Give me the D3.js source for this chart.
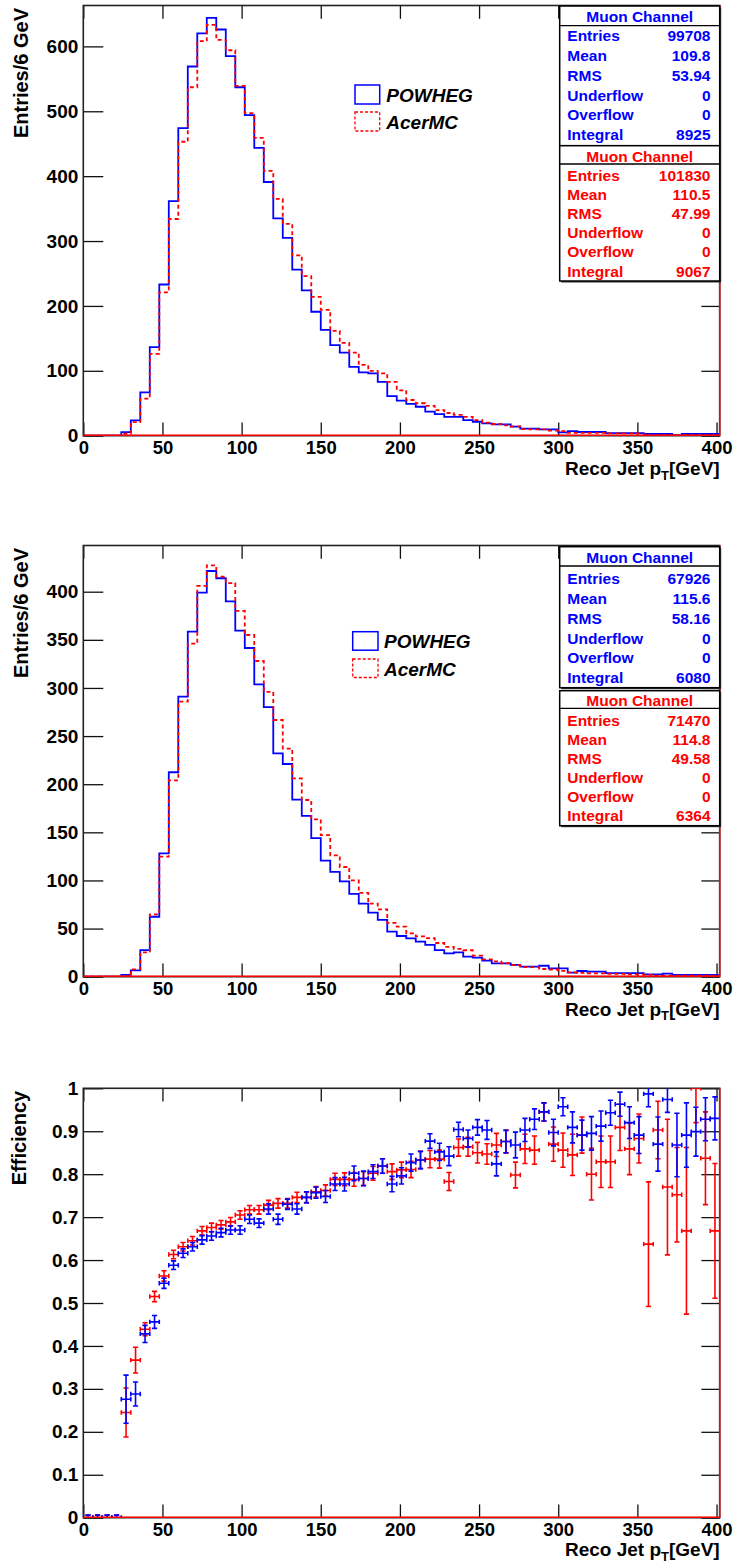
<!DOCTYPE html>
<html><head><meta charset="utf-8">
<script src="https://cdn.jsdelivr.net/npm/d3@7"></script>
<style>
body{margin:0;background:#fff}
svg{display:block}
text{font-family:"Liberation Sans",Arial,Helvetica,sans-serif;font-weight:bold}
</style></head>
<body><svg id="c" width="736" height="1564"></svg>
<script>
// ---------------- DATA ----------------
const binWidth = 6;
const binLow = d3.range(0, 402, binWidth);          // 67 bins, 0..402 GeV
const xTickLabels = [0, 50, 100, 150, 200, 250, 300, 350, 400];

// Panel 1 histograms (Entries / 6 GeV)
const h1Powheg = [0,0,0,0,5.6,23.6,66.7,136.4,233,361.5,474,569,620,644,626,585,537,494,443.5,391,335,305,256,224,191,163,139.5,128,106,97.5,96,83,61,54,49,44.6,37,33.4,29,29,24,21.5,19,17.5,17.5,14,11,11,9.8,9.8,5.2,7.2,5.7,5.7,5.7,4.1,4.1,4.1,4.1,2.6,2.6,2.6,1,2.6,2.6,2.6,2.6];
const h1Acer   = [0,0,0,0,3,21,57,126,221,334,453,537,608,633,610,594,539,497,459,408,365,326.6,278,246,214,194,161.5,143,128,109,100,96,83,70,55,50,46,39.5,35,32,29,24,20,18,16,14.5,10,9.8,9.8,8,7,4.5,4.5,4.5,4.5,3.5,3.5,3.5,3.5,1,1,1,1,1,1,1,1];

// Panel 2 histograms
const h2Powheg = [0,0,0,0,1.8,6.6,27.7,62.3,128.2,212.4,291,358.5,399,421.5,414,390,359.5,341.5,303.8,280,232,221,184,167,144,120.5,109,99,86,76,66.5,59,46.8,42.3,39.9,36.4,33,27.7,24.3,25.3,20.8,19.8,16.6,13.9,13.9,12.2,10.4,10.4,11.4,8.7,8.7,4.2,5.9,5.2,5.2,3.8,3.8,3.8,3.8,2.5,2.5,3.1,1.8,1.8,1.8,1.8,1.8];
const h2Acer   = [0,0,0,0,0.5,7.7,25.3,64.8,124.7,204,285.7,346,406,427.4,415.6,409,380,355,328,296,266.7,237,206,183.6,163.5,147,126,114,100,87,76,70,56,52,45,42,40,35,31,29,27.5,22,18,16,14,12,10,10,8,7.5,6,4.5,4,3.5,3.5,3,3,2.5,2.5,2,1,1,1,1,1,1,1];

// Panel 3 efficiencies (per 6 GeV bin) and errors
const effPowheg = [0,0,0,0,0.276,0.288,0.428,0.456,0.546,0.588,0.616,0.631,0.647,0.656,0.664,0.670,0.670,0.695,0.686,0.719,0.695,0.730,0.719,0.746,0.757,0.748,0.777,0.777,0.802,0.790,0.806,0.819,0.777,0.796,0.827,0.833,0.877,0.852,0.842,0.904,0.883,0.909,0.903,0.824,0.876,0.868,0.903,0.928,0.945,0.897,0.957,0.909,0.891,0.895,0.912,0.943,0.963,0.920,0.891,0.987,0.870,0.974,0.868,0.891,0.899,0.928,0.930];
const errPowheg = [0.006,0.006,0.006,0.006,0.056,0.028,0.02,0.015,0.012,0.01,0.01,0.01,0.01,0.01,0.01,0.01,0.01,0.01,0.01,0.012,0.012,0.012,0.012,0.013,0.013,0.014,0.015,0.016,0.017,0.017,0.016,0.017,0.018,0.019,0.02,0.02,0.017,0.02,0.022,0.017,0.02,0.018,0.022,0.028,0.026,0.03,0.027,0.024,0.021,0.031,0.021,0.036,0.035,0.039,0.035,0.029,0.028,0.037,0.043,0.03,0.063,0.03,0.074,0.075,0.057,0.05,0.05];
const effAcer   = [0,0,0,0,0.245,0.367,0.439,0.515,0.563,0.613,0.631,0.645,0.668,0.676,0.682,0.689,0.705,0.717,0.717,0.728,0.732,0.732,0.746,0.746,0.759,0.762,0.788,0.788,0.788,0.790,0.802,0.819,0.806,0.810,0.811,0.833,0.835,0.835,0.783,0.862,0.864,0.850,0.847,0.868,0.876,0.798,0.859,0.856,0.945,0.870,0.856,0.845,0.891,0.800,0.829,0.829,0.909,0.859,0.883,0.637,0.903,0.770,0.752,0.668,1.0,0.837,0.668];
const errAcer   = [0.006,0.006,0.006,0.006,0.057,0.03,0.015,0.012,0.012,0.01,0.01,0.01,0.01,0.01,0.01,0.01,0.01,0.01,0.01,0.011,0.011,0.011,0.012,0.012,0.012,0.013,0.014,0.015,0.016,0.016,0.016,0.017,0.018,0.018,0.019,0.02,0.02,0.021,0.021,0.02,0.022,0.024,0.024,0.027,0.027,0.03,0.034,0.033,0.021,0.04,0.04,0.048,0.042,0.06,0.06,0.06,0.054,0.06,0.057,0.145,0.067,0.158,0.11,0.194,0.08,0.108,0.157];

// Stat boxes
const statTitle = "Muon Channel";
const statLabels = ["Entries", "Mean", "RMS", "Underflow", "Overflow", "Integral"];
const stats1Powheg = ["99708", "109.8", "53.94", "0", "0", "8925"];
const stats1Acer   = ["101830", "110.5", "47.99", "0", "0", "9067"];
const stats2Powheg = ["67926", "115.6", "58.16", "0", "0", "6080"];
const stats2Acer   = ["71470", "114.8", "49.58", "0", "0", "6364"];
const legendNames = ["POWHEG", "AcerMC"];

// ---------------- DRAWING ----------------
const BLUE = "#0000ff", RED = "#ff0000";
const svg = d3.select("#c");
const X0 = 83.3, X1 = 719.7;
const x = d3.scaleLinear().domain([0, 402]).range([X0, X1]);
let clipId = 0;

function frame(g, y, cfg) {
  const yt = cfg.yt, yb = cfg.yb;
  const cid = "clip" + (clipId++);
  svg.append("clipPath").attr("id", cid).append("rect")
    .attr("x", X0).attr("y", yt).attr("width", X1 - X0).attr("height", yb - yt);
  // bottom axis
  const bot = g.append("g").attr("transform", `translate(0,${yb})`);
  bot.call(d3.axisBottom(x).tickValues(d3.range(0, 402, 10)).tickSize(-6.7).tickFormat(""));
  bot.call(d3.axisBottom(x).tickValues(xTickLabels).tickSize(-13.3).tickPadding(5.2).tickFormat(d3.format("d")));
  bot.selectAll(".domain").remove();
  bot.selectAll("text").attr("font-size", 18.5).attr("fill", "#000");
  bot.attr("font-family", null).attr("font-size", null);
  // top axis
  const top = g.append("g").attr("transform", `translate(0,${yt})`);
  top.call(d3.axisTop(x).tickValues(d3.range(0, 402, 10)).tickSize(-6.7).tickFormat(""));
  top.call(d3.axisTop(x).tickValues(xTickLabels).tickSize(-13.3).tickFormat(""));
  top.selectAll(".domain").remove();
  // left axis
  const left = g.append("g").attr("transform", `translate(${X0},0)`);
  left.call(d3.axisLeft(y).tickValues(cfg.minor).tickSize(-10).tickFormat(""));
  left.call(d3.axisLeft(y).tickValues(cfg.major).tickSize(-20).tickPadding(5).tickFormat(cfg.fmt));
  left.selectAll(".domain").remove();
  left.selectAll("text").attr("font-size", 19).attr("fill", "#000");
  left.attr("font-family", null).attr("font-size", null);
  // right axis
  const right = g.append("g").attr("transform", `translate(${X1},0)`);
  right.call(d3.axisRight(y).tickValues(cfg.minor).tickSize(-10).tickFormat(""));
  right.call(d3.axisRight(y).tickValues(cfg.major).tickSize(-18.3).tickFormat(""));
  right.selectAll(".domain").remove();
  g.selectAll(".tick line").attr("stroke", "#111").attr("stroke-width", 1.3);
  // frame
  g.append("rect").attr("x", X0).attr("y", yt).attr("width", X1 - X0).attr("height", yb - yt)
    .attr("fill", "none").attr("stroke", "#222").attr("stroke-width", 1.6);
  // axis titles
  const xt = g.append("text").attr("x", X1).attr("y", yb + cfg.xTitleDy).attr("text-anchor", "end")
    .attr("font-size", 19).attr("fill", "#000");
  xt.append("tspan").text("Reco Jet p");
  xt.append("tspan").attr("font-size", 13).attr("dy", 4.5).text("T");
  xt.append("tspan").attr("dy", -4.5).text("[GeV]");
  g.append("text").attr("transform", `translate(${cfg.yTitleX},${yt + 2.5}) rotate(-90)`)
    .attr("text-anchor", "end").attr("font-size", 20).attr("fill", "#000").text(cfg.yTitle);
  return cid;
}

function histPanel(cfg) {
  const g = svg.append("g");
  const y = d3.scaleLinear().domain([0, cfg.ymax]).range([cfg.yb, cfg.yt]);
  const cid = frame(g, y, cfg);
  const line = d3.line().x(d => x(d[0])).y(d => y(d[1]));
  const steps = vals => {
    const pts = [[0, 0]];
    binLow.forEach((lo, i) => { pts.push([lo, vals[i]]); pts.push([lo + binWidth, vals[i]]); });
    pts.push([402, 0]);
    return pts;
  };
  const plot = g.append("g").attr("clip-path", `url(#${cid})`);
  plot.append("path").attr("d", line(steps(cfg.blue))).attr("fill", "none")
    .attr("stroke", BLUE).attr("stroke-width", 1.8);
  plot.append("path").attr("d", line(steps(cfg.red))).attr("fill", "none")
    .attr("stroke", RED).attr("stroke-width", 1.8).attr("stroke-dasharray", "4,3");
  // red zero line / right edge
  g.append("line").attr("x1", X0).attr("x2", X1).attr("y1", y(0) - 0.5).attr("y2", y(0) - 0.5)
    .attr("stroke", RED).attr("stroke-width", 1.5);
  g.append("line").attr("x1", X1).attr("x2", X1).attr("y1", cfg.yt).attr("y2", cfg.yb)
    .attr("stroke", RED).attr("stroke-width", 1.5);
  // legend
  const L = cfg.leg;
  g.append("rect").attr("x", L.x).attr("y", L.y1).attr("width", L.w).attr("height", L.h)
    .attr("fill", "none").attr("stroke", BLUE).attr("stroke-width", 1.5);
  g.append("rect").attr("x", L.x).attr("y", L.y2).attr("width", L.w).attr("height", L.h)
    .attr("fill", "none").attr("stroke", RED).attr("stroke-width", 1.3).attr("stroke-dasharray", "3,2");
  legendNames.forEach((n, i) => {
    g.append("text").attr("x", L.tx).attr("y", i === 0 ? L.b1 : L.b2).attr("font-size", 19)
      .attr("font-style", "italic").attr("fill", "#000").text(n);
  });
  // stat boxes
  cfg.boxes.forEach(b => {
    const bx = 559.7, bw = X1 - 559.7;
    g.append("rect").attr("x", bx + 1.5).attr("y", b.top + 1.5).attr("width", bw).attr("height", b.bottom - b.top)
      .attr("fill", "#333");
    g.append("rect").attr("x", bx).attr("y", b.top).attr("width", bw).attr("height", b.bottom - b.top)
      .attr("fill", "#fff").attr("stroke", "#000").attr("stroke-width", 1.5);
    g.append("line").attr("x1", bx).attr("x2", bx + bw).attr("y1", b.hline).attr("y2", b.hline)
      .attr("stroke", "#000").attr("stroke-width", 1.3);
    g.append("text").attr("x", bx + bw / 2).attr("y", b.titleB).attr("text-anchor", "middle")
      .attr("font-size", 15.5).attr("fill", b.color).text(statTitle);
    statLabels.forEach((lab, i) => {
      const yy = b.row0 + i * b.dy;
      g.append("text").attr("x", 567.3).attr("y", yy).attr("font-size", 15.5).attr("fill", b.color).text(lab);
      g.append("text").attr("x", 710.5).attr("y", yy).attr("text-anchor", "end").attr("font-size", 15.5)
        .attr("fill", b.color).text(b.vals[i]);
    });
  });
}

histPanel({
  yt: 5.5, yb: 435.7, ymax: 663, blue: h1Powheg, red: h1Acer,
  major: d3.range(0, 601, 100), minor: d3.range(0, 661, 20), fmt: d3.format("d"),
  yTitle: "Entries/6 GeV", yTitleX: 28, xTitleDy: 39.5,
  leg: {x: 355, w: 24.7, h: 19, y1: 85, y2: 112, tx: 386.3, b1: 101.7, b2: 129.3},
  boxes: [
    {top: 6, bottom: 145.7, hline: 25.7, titleB: 22.3, row0: 41.3, dy: 19.75, color: BLUE, vals: stats1Powheg},
    {top: 145.7, bottom: 281, hline: 164, titleB: 161.7, row0: 181, dy: 19.1, color: RED, vals: stats1Acer}
  ]
});
histPanel({
  yt: 545.5, yb: 976.7, ymax: 448, blue: h2Powheg, red: h2Acer,
  major: d3.range(0, 401, 50), minor: d3.range(0, 441, 10), fmt: d3.format("d"),
  yTitle: "Entries/6 GeV", yTitleX: 28, xTitleDy: 39,
  leg: {x: 352.7, w: 25.3, h: 18.5, y1: 631.7, y2: 659, tx: 384, b1: 648.3, b2: 676},
  boxes: [
    {top: 546.7, bottom: 687.7, hline: 566, titleB: 562.7, row0: 584, dy: 19.85, color: BLUE, vals: stats2Powheg},
    {top: 690.7, bottom: 825.7, hline: 708.3, titleB: 706, row0: 725.7, dy: 19.06, color: RED, vals: stats2Acer}
  ]
});

// Efficiency panel
(function () {
  const cfg = {
    yt: 1088.3, yb: 1517.7,
    major: d3.range(0, 11).map(d => d / 10), minor: d3.range(0, 51).map(d => d / 50),
    fmt: d => d === 0 ? "0" : d === 1 ? "1" : d3.format(".1f")(d),
    yTitle: "Efficiency", yTitleX: 26, xTitleDy: 38.5
  };
  const g = svg.append("g");
  const y = d3.scaleLinear().domain([0, 1]).range([cfg.yb, cfg.yt]);
  const cid = frame(g, y, cfg);
  const plot = g.append("g").attr("clip-path", `url(#${cid})`);
  function series(vals, errs, color) {
    const s = plot.append("g").attr("stroke", color).attr("stroke-width", 1.6).attr("fill", "none");
    binLow.forEach((lo, i) => {
      const cx = x(lo + binWidth / 2), xl = x(lo), xr = x(lo + binWidth);
      const cy = y(vals[i]), yu = y(vals[i] + errs[i]), yd = y(vals[i] - errs[i]);
      s.append("line").attr("x1", xl).attr("x2", xr).attr("y1", cy).attr("y2", cy);
      s.append("line").attr("x1", cx).attr("x2", cx).attr("y1", yu).attr("y2", yd);
      s.append("line").attr("x1", xl).attr("x2", xl).attr("y1", cy - 2.2).attr("y2", cy + 2.2);
      s.append("line").attr("x1", xr).attr("x2", xr).attr("y1", cy - 2.2).attr("y2", cy + 2.2);
      s.append("line").attr("x1", cx - 2.6).attr("x2", cx + 2.6).attr("y1", yu).attr("y2", yu);
      s.append("line").attr("x1", cx - 2.6).attr("x2", cx + 2.6).attr("y1", yd).attr("y2", yd);
    });
  }
  series(effAcer, errAcer, RED);
  series(effPowheg, errPowheg, BLUE);
  g.append("line").attr("x1", X0).attr("x2", X1).attr("y1", y(0) - 0.5).attr("y2", y(0) - 0.5)
    .attr("stroke", RED).attr("stroke-width", 1.5);
  g.append("line").attr("x1", X1).attr("x2", X1).attr("y1", cfg.yt).attr("y2", cfg.yb)
    .attr("stroke", RED).attr("stroke-width", 1.5);
})();
</script></body></html>
